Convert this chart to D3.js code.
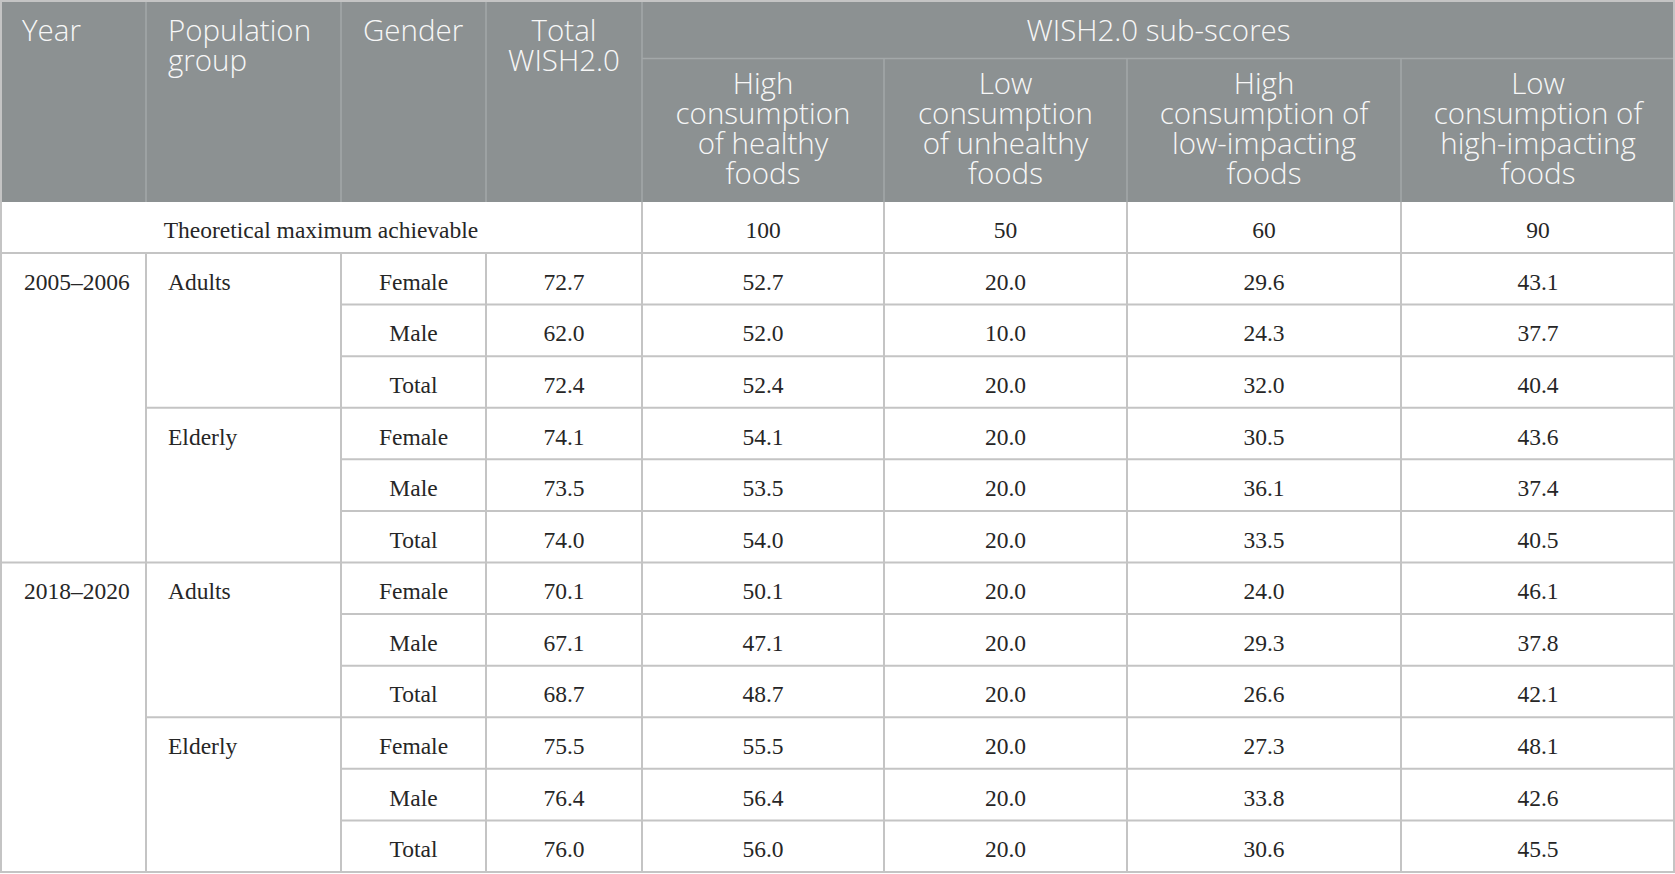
<!DOCTYPE html>
<html>
<head>
<meta charset="utf-8">
<script src="https://cdn.jsdelivr.net/npm/d3@7"></script>
<style>
  body { margin: 0; background: #fff; }
  svg { display: block; }
</style>
</head>
<body>
<div id="chart_container"></div>
<script>
// table data
const years = ["2005–2006", "2018–2020"];
const groups = ["Adults", "Elderly"];
const genders = ["Female", "Male", "Total"];
const totalWish = [72.7, 62.0, 72.4, 74.1, 73.5, 74.0, 70.1, 67.1, 68.7, 75.5, 76.4, 76.0];
const healthy = [52.7, 52.0, 52.4, 54.1, 53.5, 54.0, 50.1, 47.1, 48.7, 55.5, 56.4, 56.0];
const unhealthy = [20.0, 10.0, 20.0, 20.0, 20.0, 20.0, 20.0, 20.0, 20.0, 20.0, 20.0, 20.0];
const lowImpact = [29.6, 24.3, 32.0, 30.5, 36.1, 33.5, 24.0, 29.3, 26.6, 27.3, 33.8, 30.6];
const highImpact = [43.1, 37.7, 40.4, 43.6, 37.4, 40.5, 46.1, 37.8, 42.1, 48.1, 42.6, 45.5];
const maxAchievable = [100, 50, 60, 90];
const maxLabel = "Theoretical maximum achievable";
const mainHeaders = [["Year"], ["Population", "group"], ["Gender"], ["Total", "WISH2.0"]];
const subHeaderTitle = "WISH2.0 sub-scores";
const subHeaders = [
  ["High", "consumption", "of healthy", "foods"],
  ["Low", "consumption", "of unhealthy", "foods"],
  ["High", "consumption of", "low-impacting", "foods"],
  ["Low", "consumption of", "high-impacting", "foods"]
];

// layout
const w = 1675, h = 874;
const colEdges = [0, 146, 341, 486, 642, 884, 1127, 1401, 1675];
const headTop = 0, subLine = 58.5, headBottom = 202, maxBottom = 253, tableBottom = 872;
const headBg = "#8c9192", headLine = "#a3a8a9", bodyLine = "#c4c4c4", textColor = "#262626";
const headFont = "'Open Sans', sans-serif", bodyFont = "'Liberation Serif', 'Times New Roman', serif";
const fmt = d3.format(".1f");

// build rows
const rows = [];
years.forEach((y, yi) => groups.forEach((g, gi) => genders.forEach((s, si) => {
  const i = yi * 6 + gi * 3 + si;
  rows.push({year: y, group: g, gender: s, gi: gi, si: si,
    values: [totalWish[i], healthy[i], unhealthy[i], lowImpact[i], highImpact[i]]});
})));

const yScale = d3.scaleBand()
  .domain(d3.range(rows.length))
  .range([maxBottom, tableBottom]);

const svg = d3.select("#chart_container").append("svg")
  .attr("width", w).attr("height", h);

// header background
svg.append("rect")
  .attr("x", 0).attr("y", headTop)
  .attr("width", w).attr("height", headBottom - headTop)
  .attr("fill", headBg);

// header lines
const hl = svg.append("g").attr("stroke", headLine).attr("stroke-width", 1.5);
colEdges.slice(1, 8).forEach((x, i) => {
  hl.append("line")
    .attr("x1", x).attr("x2", x)
    .attr("y1", i < 4 ? headTop : subLine).attr("y2", headBottom);
});
hl.append("line")
  .attr("x1", colEdges[4]).attr("x2", w)
  .attr("y1", subLine).attr("y2", subLine);

// header text
const ht = svg.append("g")
  .attr("fill", "#f7f7f7")
  .attr("font-family", headFont)
  .attr("font-weight", 300)
  .attr("font-size", 29.5);

mainHeaders.forEach((lines, i) => {
  const centered = i === 3;
  const x = centered ? (colEdges[i] + colEdges[i + 1]) / 2 : colEdges[i] + 22;
  ht.append("text")
    .attr("text-anchor", centered ? "middle" : "start")
    .selectAll("tspan").data(lines).join("tspan")
    .attr("x", x)
    .attr("y", (d, j) => 41 + j * 30)
    .text(d => d);
});

ht.append("text")
  .attr("text-anchor", "middle")
  .attr("x", (colEdges[4] + w) / 2).attr("y", 41)
  .text(subHeaderTitle);

subHeaders.forEach((lines, i) => {
  ht.append("text")
    .attr("text-anchor", "middle")
    .selectAll("tspan").data(lines).join("tspan")
    .attr("x", (colEdges[i + 4] + colEdges[i + 5]) / 2)
    .attr("y", (d, j) => 94 + j * 30)
    .text(d => d);
});

// body lines
const bl = svg.append("g").attr("stroke", bodyLine).attr("stroke-width", 2).attr("fill", "none");
bl.append("rect")
  .attr("x", 1).attr("y", 1)
  .attr("width", w - 2).attr("height", tableBottom - 1);
bl.append("line").attr("x1", 0).attr("x2", w).attr("y1", maxBottom).attr("y2", maxBottom);
colEdges.slice(4, 8).forEach(x => {
  bl.append("line").attr("x1", x).attr("x2", x).attr("y1", headBottom).attr("y2", tableBottom);
});
colEdges.slice(1, 4).forEach(x => {
  bl.append("line").attr("x1", x).attr("x2", x).attr("y1", maxBottom).attr("y2", tableBottom);
});
rows.forEach((r, i) => {
  if (i === 0) return;
  const startCol = r.gi === 0 && r.si === 0 ? 0 : (r.si === 0 ? 1 : 2);
  bl.append("line")
    .attr("x1", colEdges[startCol]).attr("x2", w)
    .attr("y1", yScale(i)).attr("y2", yScale(i));
});

// body text
const bt = svg.append("g")
  .attr("fill", textColor)
  .attr("font-family", bodyFont)
  .attr("font-size", 23.5);

const maxY = (headBottom + maxBottom) / 2 + 10.5;
bt.append("text")
  .attr("text-anchor", "middle")
  .attr("x", colEdges[4] / 2).attr("y", maxY)
  .text(maxLabel);
bt.selectAll(".maxv").data(maxAchievable).join("text")
  .attr("class", "maxv")
  .attr("text-anchor", "middle")
  .attr("x", (d, i) => (colEdges[i + 4] + colEdges[i + 5]) / 2)
  .attr("y", maxY)
  .text(d => d);

const rowG = bt.selectAll(".row").data(rows).join("g")
  .attr("class", "row")
  .attr("transform", (d, i) => `translate(0,${yScale(i) + yScale.bandwidth() / 2 + 11})`);

rowG.filter(d => d.gi === 0 && d.si === 0).append("text")
  .attr("x", colEdges[0] + 24)
  .text(d => d.year);
rowG.filter(d => d.si === 0).append("text")
  .attr("x", colEdges[1] + 22)
  .text(d => d.group);
rowG.append("text")
  .attr("text-anchor", "middle")
  .attr("x", (colEdges[2] + colEdges[3]) / 2)
  .text(d => d.gender);
rowG.selectAll(".val").data(d => d.values).join("text")
  .attr("class", "val")
  .attr("text-anchor", "middle")
  .attr("x", (d, i) => (colEdges[i + 3] + colEdges[i + 4]) / 2)
  .text(d => fmt(d));
</script>
</body>
</html>
